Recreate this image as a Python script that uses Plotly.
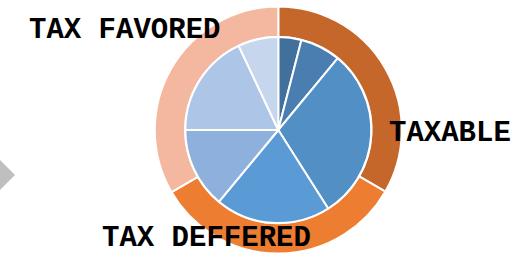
import plotly.graph_objects as go

W, H = 531, 254

# Data
outer_labels = ["TAXABLE", "TAX DEFFERED", "TAX FAVORED"]
outer_values = [33.3, 33.3, 33.4]
outer_colors = ["#C5672B", "#ED7D31", "#F4B8A0"]

inner_labels = ["A", "B", "C", "D", "E", "F", "G"]
inner_values = [4, 7, 30, 20, 14, 18, 7]
inner_colors = ["#41709C", "#4A7EB1", "#528FC4", "#5B9BD5", "#8EB0DD", "#ADC5E7", "#C6D6EC"]

def px_x(x):
    return x / W

def px_y(y):
    return 1 - y / H

cx, cy = 278.3, 130.0
R_out, R_in = 123.5, 93.0

fig = go.Figure()
fig.add_trace(go.Pie(
    labels=outer_labels, values=outer_values, sort=False, direction="clockwise",
    rotation=0, hole=0.755, textinfo="none", hoverinfo="label",
    marker=dict(colors=outer_colors, line=dict(color="white", width=2)),
    domain=dict(x=[px_x(cx - R_out), px_x(cx + R_out)], y=[max(0, px_y(cy + R_out)), px_y(cy - R_out)]),
))
fig.add_trace(go.Pie(
    labels=inner_labels, values=inner_values, sort=False, direction="clockwise",
    rotation=0, textinfo="none", hoverinfo="label+value",
    marker=dict(colors=inner_colors, line=dict(color="white", width=2)),
    domain=dict(x=[px_x(cx - R_in), px_x(cx + R_in)], y=[px_y(cy + R_in), px_y(cy - R_in)]),
))

font = dict(family="Courier New, Liberation Mono, monospace", size=29, color="black")
label_pos = {"TAX FAVORED": (125, 30), "TAXABLE": (450, 133), "TAX DEFFERED": (206, 238)}
for text, (x, y) in label_pos.items():
    fig.add_annotation(x=px_x(x), y=px_y(y), xref="paper", yref="paper", text="<b>%s</b>" % text,
                       showarrow=False, font=font, xanchor="center", yanchor="middle")

fig.add_shape(type="path", xref="paper", yref="paper",
              path="M %f,%f L %f,%f L %f,%f Z" % (px_x(0), px_y(160), px_x(15), px_y(175), px_x(0), px_y(190)),
              fillcolor="#BFBFBF", line=dict(width=0))

fig.update_layout(width=W, height=H, margin=dict(l=0, r=0, t=0, b=0), showlegend=False,
                  paper_bgcolor="white", plot_bgcolor="white")
fig.write_html("out.html", config={"displayModeBar": False},
               post_script="document.body.style.margin='0px';document.body.style.overflow='hidden';")
